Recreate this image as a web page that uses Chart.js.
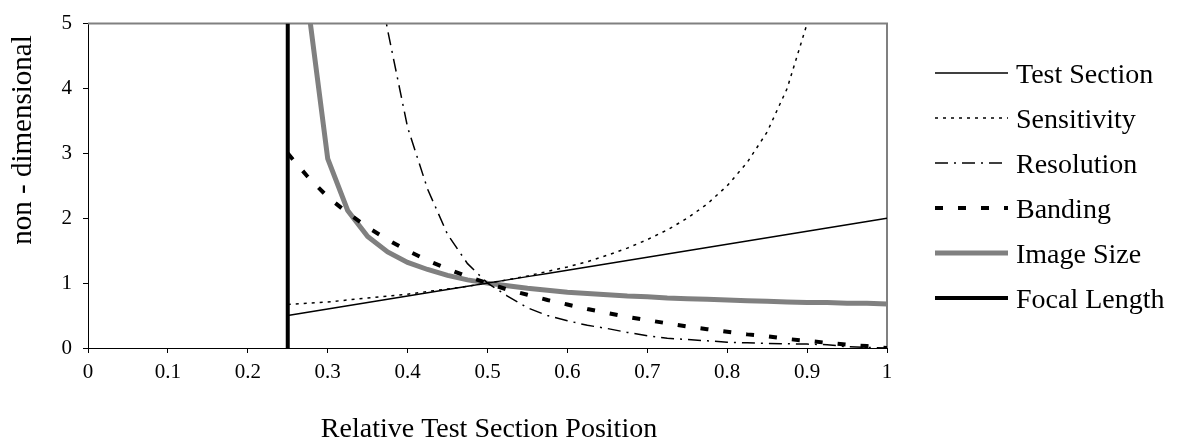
<!DOCTYPE html>
<html>
<head>
<meta charset="utf-8">
<script src="https://cdn.jsdelivr.net/npm/chart.js@4.4.0/dist/chart.umd.min.js"></script>
<style>
  html, body { margin: 0; padding: 0; background: #ffffff; }
</style>
</head>
<body>
<canvas id="chart" width="1177" height="442"></canvas>
<script>
// Relative test section position (x) for every series
const positions = [0.25, 0.275, 0.3, 0.325, 0.35, 0.375, 0.4, 0.425, 0.45, 0.475, 0.5,
  0.525, 0.55, 0.575, 0.6, 0.625, 0.65, 0.675, 0.7, 0.725, 0.75,
  0.775, 0.8, 0.825, 0.85, 0.875, 0.9, 0.925, 0.95, 0.975, 1.0];

const testSection = [0.5, 0.55, 0.6, 0.65, 0.7, 0.75, 0.8, 0.85, 0.9, 0.95, 1.0,
  1.05, 1.1, 1.15, 1.2, 1.25, 1.3, 1.35, 1.4, 1.45, 1.5,
  1.55, 1.6, 1.65, 1.7, 1.75, 1.8, 1.85, 1.9, 1.95, 2.0];

// stops at 0.9 where it leaves the top of the plot
const sensitivity = [0.67, 0.69, 0.71, 0.74, 0.77, 0.8, 0.83, 0.87, 0.91, 0.95, 1.0,
  1.05, 1.11, 1.18, 1.25, 1.33, 1.43, 1.54, 1.67, 1.82, 2.0,
  2.22, 2.5, 2.86, 3.33, 4.0, 5.0];

const resolution = [null, null, null, null, 6.5, 4.9, 3.4, 2.45, 1.75, 1.3, 1.0,
  0.8, 0.62, 0.5, 0.42, 0.35, 0.3, 0.24, 0.19, 0.15, 0.13,
  0.11, 0.09, 0.08, 0.07, 0.065, 0.06, 0.05, 0.02, 0.01, 0.0];

const banding = [3.0, 2.64, 2.33, 2.08, 1.86, 1.67, 1.5, 1.35, 1.22, 1.1, 1.0,
  0.9, 0.82, 0.74, 0.67, 0.6, 0.54, 0.48, 0.43, 0.38, 0.33,
  0.29, 0.25, 0.21, 0.18, 0.14, 0.11, 0.08, 0.05, 0.03, 0.0];

const imageSize = [null, 5.32, 2.92, 2.12, 1.72, 1.48, 1.32, 1.21, 1.12, 1.05, 1.0,
  0.96, 0.92, 0.89, 0.86, 0.84, 0.82, 0.8, 0.79, 0.77, 0.76,
  0.75, 0.74, 0.73, 0.72, 0.71, 0.7, 0.7, 0.69, 0.69, 0.68];

const focalX = [0.25, 0.25];
const focalY = [0, 5];

const xTickLabels = ['0', '0.1', '0.2', '0.3', '0.4', '0.5', '0.6', '0.7', '0.8', '0.9', '1'];
const yTickLabels = ['0', '1', '2', '3', '4', '5'];

const serif = "'Liberation Serif', 'Times New Roman', serif";

function pairs(xs, ys) {
  const out = [];
  ys.forEach((y, i) => { if (y !== null) out.push({ x: xs[i], y: y }); });
  return out;
}

function lineSet(label, data, color, width, dash) {
  return {
    label: label,
    data: data,
    borderColor: color,
    backgroundColor: color,
    borderWidth: width,
    borderDash: dash,
    borderCapStyle: 'butt',
    pointRadius: 0,
    tension: 0,
    fill: false,
    clip: 0
  };
}

// legend at the right, drawn by hand like the spreadsheet one
const sideLegend = {
  id: 'sideLegend',
  afterDraw(chart) {
    const ctx = chart.ctx;
    ctx.save();
    chart.data.datasets.forEach((ds, row) => {
      const y = 73 + row * 45;
      ctx.beginPath();
      ctx.strokeStyle = ds.borderColor;
      ctx.lineWidth = ds.borderWidth;
      ctx.setLineDash(ds.borderDash || []);
      ctx.lineCap = 'butt';
      ctx.moveTo(935, y);
      ctx.lineTo(1008, y);
      ctx.stroke();
      ctx.setLineDash([]);
      ctx.fillStyle = '#000';
      ctx.font = '28px ' + serif;
      ctx.textAlign = 'left';
      ctx.textBaseline = 'alphabetic';
      ctx.fillText(ds.label, 1016, y + 10);
    });

    // axis titles
    ctx.font = '28px ' + serif;
    ctx.textAlign = 'center';
    ctx.textBaseline = 'alphabetic';
    ctx.fillText('Relative Test Section Position', 489, 437);
    ctx.font = '29px ' + serif;
    ctx.translate(31, 140);
    ctx.rotate(-Math.PI / 2);
    ctx.fillText('non - dimensional', 0, 0);
    ctx.restore();
  },
  beforeDatasetsDraw(chart) {
    // gray frame on top and right of the plot
    const a = chart.chartArea;
    const ctx = chart.ctx;
    ctx.save();
    ctx.strokeStyle = '#808080';
    ctx.lineWidth = 2;
    ctx.beginPath();
    ctx.moveTo(a.left, a.top);
    ctx.lineTo(a.right, a.top);
    ctx.lineTo(a.right, a.bottom);
    ctx.stroke();
    ctx.restore();
  }
};

const ctx = document.getElementById('chart').getContext('2d');
const chart = new Chart(ctx, {
  type: 'line',
  data: {
    datasets: [
      lineSet('Test Section', pairs(positions, testSection), '#000000', 1.5, []),
      lineSet('Sensitivity', pairs(positions, sensitivity), '#000000', 1.5, [3, 5]),
      lineSet('Resolution', pairs(positions, resolution), '#000000', 1.5, [13, 6, 2, 6]),
      lineSet('Banding', pairs(positions, banding), '#000000', 4, [8, 15]),
      lineSet('Image Size', pairs(positions, imageSize), '#808080', 5, []),
      lineSet('Focal Length', pairs(focalX, focalY), '#000000', 4, [])
    ]
  },
  options: {
    responsive: false,
    animation: false,
    devicePixelRatio: 1,
    layout: { padding: { left: 0, top: 20, right: 290, bottom: 0 } },
    plugins: {
      legend: { display: false },
      tooltip: { enabled: false }
    },
    scales: {
      x: {
        type: 'linear',
        min: 0,
        max: 1,
        afterFit: (scale) => { scale.height = 94; },
        ticks: {
          stepSize: 0.1,
          color: '#000',
          padding: 7,
          maxRotation: 0,
          font: { family: serif, size: 21 },
          callback: (v, i) => xTickLabels[i]
        },
        grid: { drawOnChartArea: false, drawTicks: true, tickLength: 5, color: '#000' },
        border: { display: true, color: '#000', width: 1 }
      },
      y: {
        type: 'linear',
        min: 0,
        max: 5,
        afterFit: (scale) => { scale.width = 88; },
        ticks: {
          stepSize: 1,
          color: '#000',
          padding: 11,
          font: { family: serif, size: 21 },
          callback: (v, i) => yTickLabels[i]
        },
        grid: { drawOnChartArea: false, drawTicks: true, tickLength: 5, color: '#000' },
        border: { display: true, color: '#000', width: 1 }
      }
    }
  },
  plugins: [sideLegend]
});
</script>
</body>
</html>
